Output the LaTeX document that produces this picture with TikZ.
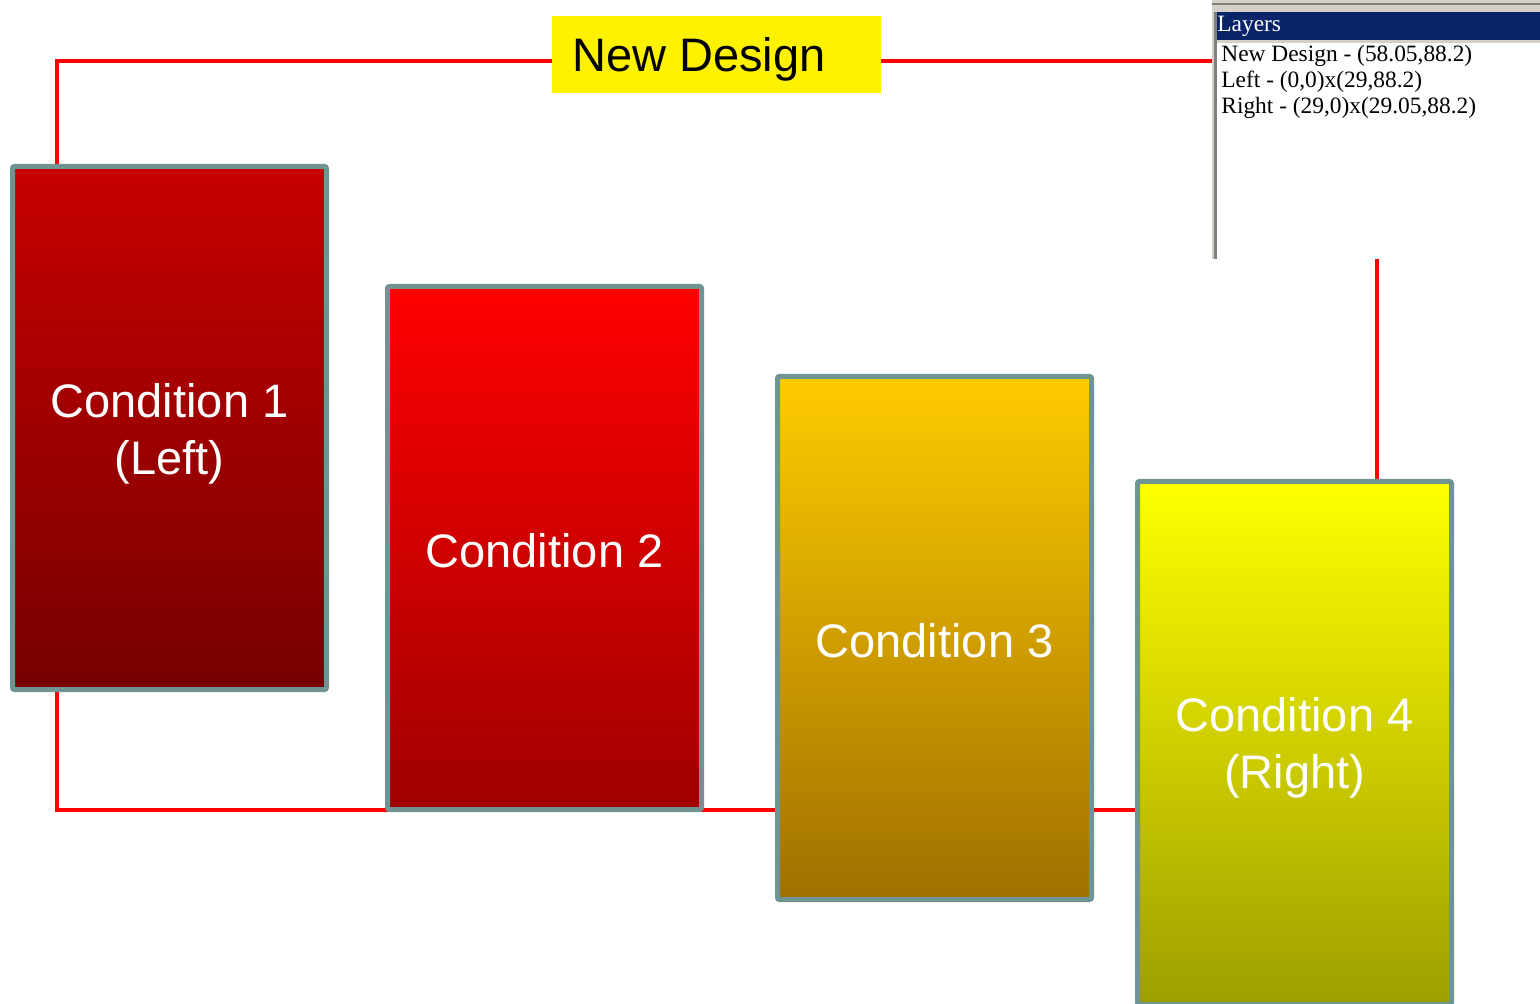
\documentclass[tikz,border=0pt]{standalone}
\usepackage{fontspec}
\setmainfont{Liberation Sans}
\newfontfamily\panelfont{Liberation Serif}
\definecolor{edgegray}{HTML}{6E9494}
\definecolor{navybar}{HTML}{0A246A}
\definecolor{wingray}{HTML}{D4D0C8}
\definecolor{windark}{HTML}{808080}
\tikzset{
  condbox/.style={draw=edgegray, line width=2.5pt, rounded corners=1pt, inner sep=0pt,
    minimum width=157pt, minimum height=261.5pt},
  condtext/.style={text=white, align=center, inner sep=0pt,
    font=\fontsize{23.5}{28.5}\selectfont},
  loopline/.style={red, line width=2.4pt},
  paneltext/.style={anchor=base west, inner sep=0pt, font=\panelfont\fontsize{11.7}{13}\selectfont}
}
\begin{document}
\begin{tikzpicture}[x=0.5pt, y=-0.5pt]
\useasboundingbox (0,0) rectangle (1540,1004);
\fill[white] (0,0) rectangle (1540,1004);
% red loop
\coordinate (tl) at (57,61);
\coordinate (tr) at (1377,61);
\coordinate (br) at (1377,810);
\coordinate (bl) at (57,810);
\draw[loopline] (tl) -- (tr) -- (br) -- (bl) -- cycle;
% title
\node[fill=yellow, inner sep=0pt, minimum width=164.5pt, minimum height=38.5pt] (title) at (716.5,54.5) {};
\node[anchor=base west, inner sep=0pt, font=\fontsize{23.5}{28}\selectfont] (titletext) at (572,72) {New Design};
% boxes
\node[condbox, top color={rgb,255:red,200;green,0;blue,0}, bottom color={rgb,255:red,118;green,0;blue,0}] (c1) at (169.5,428) {};
\node[condbox, top color={rgb,255:red,255;green,0;blue,0}, bottom color={rgb,255:red,160;green,0;blue,0}] (c2) at (544.5,548) {};
\node[condbox, top color={rgb,255:red,255;green,204;blue,0}, bottom color={rgb,255:red,160;green,112;blue,0}] (c3) at (934.5,638) {};
\node[condbox, top color={rgb,255:red,255;green,255;blue,0}, bottom color={rgb,255:red,158;green,158;blue,0}] (c4) at (1294.5,743) {};
\node[condtext, yshift=-3pt] (c1t) at (c1.center) {Condition 1\\(Left)};
\node[condtext, yshift=-1.5pt] (c2t) at (c2.center) {Condition 2};
\node[condtext, yshift=-1.5pt] (c3t) at (c3.center) {Condition 3};
\node[condtext, yshift=-2.5pt] (c4t) at (c4.center) {Condition 4\\(Right)};
% layers panel
\fill[white] (1212,0) rectangle (1540,259);
\fill[wingray] (1212,0) rectangle (1540,12);
\fill[windark] (1212,3) rectangle (1540,5);
\fill[navybar] (1216,12) rectangle (1540,40);
\fill[wingray] (1216,40) rectangle (1540,43);
\fill[wingray] (1212,12) rectangle (1214,259);
\fill[windark] (1214,12) rectangle (1217,259);
\node[paneltext, text=white] (ptitle) at (1217,32) {Layers};
\node[paneltext] (l1) at (1221,62) {New Design - (58.05,88.2)};
\node[paneltext] (l2) at (1221,88) {Left - (0,0)x(29,88.2)};
\node[paneltext] (l3) at (1221,114) {Right - (29,0)x(29.05,88.2)};
\end{tikzpicture}
\end{document}
